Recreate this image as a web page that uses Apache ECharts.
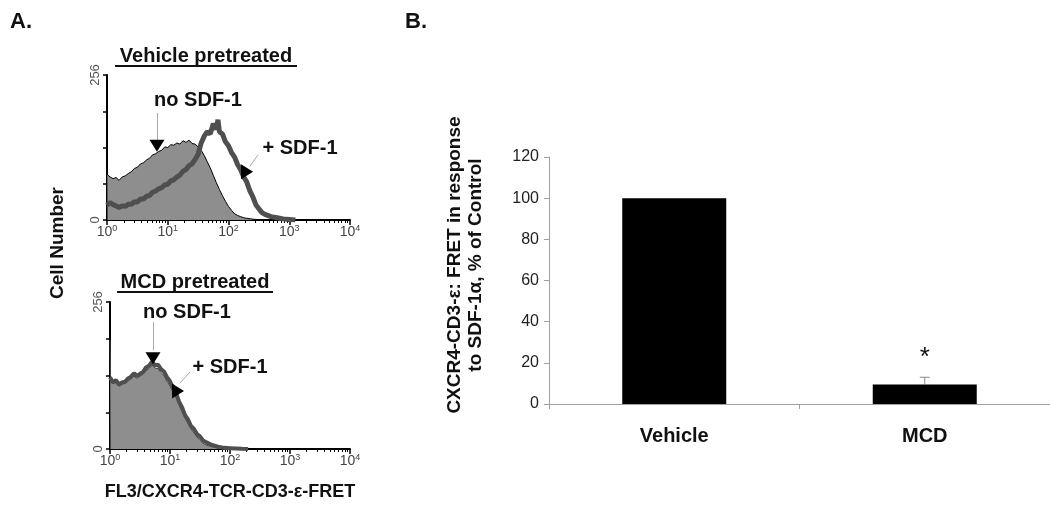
<!DOCTYPE html>
<html>
<head>
<meta charset="utf-8">
<script src="https://cdn.jsdelivr.net/npm/echarts@6/dist/echarts.min.js"></script>
<style>
  html, body { margin: 0; padding: 0; background: #fff; }
  #main { width: 1050px; height: 510px; }
</style>
</head>
<body>
<div id="main"></div>
<script>
// panel A, top: vehicle pretreated  [fluorescence, cell count]
var vehNoSdf = [[1,172],[1.02,80],[1.12,76],[1.26,73],[1.41,75],[1.58,70],[1.78,76],[2,78],[2.24,82],[2.51,85],[2.82,91],[3.16,93],[3.55,99],[3.98,101],[4.47,106],[5.01,109],[5.62,115],[6.31,117],[7.08,121],[7.94,123],[8.91,129],[10,128],[11.2,133],[12.6,132],[14.1,136],[15.8,134],[17.8,140],[20,137],[22.4,141],[25.1,135],[28.2,134],[31.6,129],[35.5,123],[39.8,114],[44.7,103],[50.1,92],[56.2,79],[63.1,66],[70.8,54],[79.4,43],[89.1,33],[100,24],[112,17],[126,11],[141,8],[158,6],[178,4],[200,3],[251,1.5],[316,0.5],[398,0]];
var vehSdf = [[1,26],[1.12,31],[1.26,27],[1.41,25],[1.58,22],[1.78,25],[2,24],[2.24,28],[2.51,28],[2.82,32],[3.16,32],[3.55,37],[3.98,37],[4.47,42],[5.01,43],[5.62,49],[6.31,51],[7.08,55],[7.94,57],[8.91,62],[10,63],[11.2,69],[12.6,71],[14.1,76],[15.8,79],[17.8,86],[20,89],[22.4,96],[25.1,99],[28.2,107],[31.6,116],[35.5,136],[39.8,148],[44.7,156],[50.1,152],[56.2,170],[63.1,160],[67,177],[70.8,156],[79.4,152],[89.1,138],[100,131],[112,119],[126,111],[141,98],[158,89],[178,76],[200,67],[224,52],[251,41],[282,27],[316,20],[355,13],[398,10],[501,6],[631,4],[794,2],[1000,1],[1259,0]];

// panel A, bottom: MCD pretreated
var mcdNoSdf = [[1,190],[1.02,121],[1.12,114],[1.26,117],[1.41,109],[1.58,113],[1.78,114],[2,119],[2.24,122],[2.51,127],[2.82,123],[3.16,127],[3.55,130],[3.98,137],[4.47,140],[5.01,146],[5.62,141],[6.31,140],[7.08,133],[7.94,128],[8.91,118],[10,110],[11.2,99],[12.6,90],[14.1,77],[15.8,65],[17.8,54],[20,44],[22.4,35],[25.1,28],[28.2,21],[31.6,15],[35.5,10],[39.8,7],[50.1,4],[63.1,2],[79.4,1],[100,0]];
var mcdSdf = [[1,125],[1.12,116],[1.26,120],[1.41,112],[1.58,116],[1.78,117],[2,123],[2.24,126],[2.51,132],[2.82,127],[3.16,131],[3.55,134],[3.98,142],[4.47,145],[5.01,152],[5.62,146],[6.31,147],[7.08,139],[7.94,135],[8.91,125],[10,118],[11.2,106],[12.6,98],[14.1,83],[15.8,73],[17.8,59],[20,51],[22.4,40],[25.1,35],[28.2,26],[31.6,22],[35.5,15],[39.8,12],[50.1,7],[63.1,4],[79.4,2],[100,1.5],[126,1],[158,0.5],[200,0]];

// panel B
var barCats = ['Vehicle', 'MCD'];
var barVals = [100, 9.5];
var barErr = [0, 3.5];
var barStars = ['', '*'];

var FONT = '"Liberation Sans", Arial, sans-serif';
var FILL = '#8e8e8e';
var DARK = '#4f4f4f';

var chart = echarts.init(document.getElementById('main'));

function histX(idx, name) {
  return {
    type: 'log', gridIndex: idx, logBase: 10, min: 1, max: 10000,
    name: name || '', nameLocation: 'middle', nameGap: 34,
    nameTextStyle: { fontFamily: FONT, fontWeight: 'bold', fontSize: 18, color: '#111' },
    axisLine: { lineStyle: { color: '#000', width: 2 } },
    axisTick: { show: true, length: 5, lineStyle: { color: '#000', width: 1.5 } },
    minorTick: { show: true, splitNumber: 10, length: 3, lineStyle: { color: '#000' } },
    splitLine: { show: false },
    axisLabel: {
      margin: 4,
      formatter: function (v) {
        return '{a|10}{b|' + Math.round(Math.log10(v)) + '}';
      },
      rich: {
        a: { fontFamily: FONT, fontSize: 14, color: '#444' },
        b: { fontFamily: FONT, fontSize: 9, color: '#444', padding: [0, 0, 8, 0] }
      }
    }
  };
}

function histY(idx) {
  return {
    type: 'value', gridIndex: idx, min: 0, max: 256, interval: 64,
    axisLine: { show: true, lineStyle: { color: '#000', width: 2 } },
    axisTick: { show: true, length: 4, lineStyle: { color: '#000', width: 1.5 } },
    splitLine: { show: false },
    axisLabel: {
      rotate: 90, margin: 5, fontFamily: FONT, fontSize: 13, color: '#555',
      formatter: function (v) { return (v === 0 || v === 256) ? String(v) : ''; }
    }
  };
}

function leader(p1, p2) {
  return [{ coord: p1 }, { coord: p2 }];
}

var option = {
  animation: false,
  backgroundColor: '#fff',
  grid: [
    { left: 107, top: 75, width: 243, height: 145 },
    { left: 110, top: 302, width: 240, height: 147 },
    { left: 549, top: 157, width: 514, height: 247 }
  ],
  xAxis: [
    histX(0),
    histX(1, 'FL3/CXCR4-TCR-CD3-\u03b5-FRET'),
    {
      type: 'category', gridIndex: 2, data: barCats,
      axisLine: { lineStyle: { color: '#a0a0a0', width: 1 } },
      axisTick: { show: true, length: 5, lineStyle: { color: '#a0a0a0' } },
      axisLabel: { margin: 22, fontFamily: FONT, fontWeight: 'bold', fontSize: 20, color: '#111' }
    }
  ],
  yAxis: [
    histY(0),
    histY(1),
    {
      type: 'value', gridIndex: 2, min: 0, max: 120, interval: 20,
      axisLine: { show: true, lineStyle: { color: '#a0a0a0', width: 1 } },
      axisTick: { show: true, length: 5, lineStyle: { color: '#a0a0a0' } },
      splitLine: { show: false },
      axisLabel: { margin: 10, fontFamily: FONT, fontSize: 16, color: '#222' }
    }
  ],
  series: [
    {
      type: 'line', xAxisIndex: 0, yAxisIndex: 0, data: vehNoSdf, symbol: 'none',
      lineStyle: { color: '#000', width: 1 }, areaStyle: { color: FILL, opacity: 1 }
    },
    {
      type: 'line', xAxisIndex: 0, yAxisIndex: 0, data: vehSdf, symbol: 'none',
      lineStyle: { color: DARK, width: 5 },
      markLine: {
        silent: true, symbol: 'none', label: { show: false },
        lineStyle: { color: '#aaa', width: 1, type: 'solid' },
        data: [leader([6.65, 189], [6.65, 141]), leader([306, 115], [226, 95])]
      },
      markPoint: {
        silent: true, label: { show: false }, itemStyle: { color: '#000' },
        data: [
          { coord: [6.65, 131], symbol: 'triangle', symbolSize: [15, 12], symbolRotate: 180 },
          { coord: [202, 85], symbol: 'triangle', symbolSize: [15, 12], symbolRotate: -90 }
        ]
      }
    },
    {
      type: 'line', xAxisIndex: 1, yAxisIndex: 1, data: mcdNoSdf, symbol: 'none',
      lineStyle: { color: '#444', width: 1 }, areaStyle: { color: FILL, opacity: 1 }
    },
    {
      type: 'line', xAxisIndex: 1, yAxisIndex: 1, data: mcdSdf, symbol: 'none',
      lineStyle: { color: DARK, width: 4 },
      markLine: {
        silent: true, symbol: 'none', label: { show: false },
        lineStyle: { color: '#aaa', width: 1, type: 'solid' },
        data: [leader([5.2, 221], [5.2, 172]), leader([21.5, 134], [14.7, 115])]
      },
      markPoint: {
        silent: true, label: { show: false }, itemStyle: { color: '#000' },
        data: [
          { coord: [5.2, 158], symbol: 'triangle', symbolSize: [15, 12], symbolRotate: 180 },
          { coord: [13.6, 101], symbol: 'triangle', symbolSize: [15, 12], symbolRotate: -90 }
        ]
      }
    },
    {
      type: 'bar', xAxisIndex: 2, yAxisIndex: 2, data: barVals, barWidth: 104,
      itemStyle: { color: '#000' }
    },
    {
      type: 'custom', xAxisIndex: 2, yAxisIndex: 2,
      data: barCats.map(function (c, i) { return [i, barVals[i], barErr[i], barStars[i]]; }),
      renderItem: function (params, api) {
        var err = api.value(2);
        if (!err) return;
        var base = api.coord([api.value(0), api.value(1)]);
        var top = api.coord([api.value(0), api.value(1) + err]);
        return {
          type: 'group',
          children: [
            { type: 'line', shape: { x1: base[0], y1: base[1], x2: top[0], y2: top[1] }, style: { stroke: '#888', lineWidth: 1 } },
            { type: 'line', shape: { x1: top[0] - 5, y1: top[1], x2: top[0] + 5, y2: top[1] }, style: { stroke: '#888', lineWidth: 1 } },
            { type: 'text', x: top[0], y: top[1] - 6, style: { text: barStars[params.dataIndex], font: '26px ' + FONT, fill: '#111', align: 'center', verticalAlign: 'bottom' } }
          ]
        };
      }
    }
  ],
  graphic: [
    { type: 'text', x: 10, y: 22, style: { text: 'A.', font: 'bold 22px ' + FONT, fill: '#111', verticalAlign: 'middle' } },
    { type: 'text', x: 405, y: 22, style: { text: 'B.', font: 'bold 22px ' + FONT, fill: '#111', verticalAlign: 'middle' } },
    { type: 'text', x: 206, y: 56, style: { text: 'Vehicle pretreated', font: 'bold 20px ' + FONT, fill: '#111', align: 'center', verticalAlign: 'middle' } },
    { type: 'line', shape: { x1: 115, y1: 66, x2: 297, y2: 66 }, style: { stroke: '#111', lineWidth: 2 } },
    { type: 'text', x: 195, y: 282, style: { text: 'MCD pretreated', font: 'bold 20px ' + FONT, fill: '#111', align: 'center', verticalAlign: 'middle' } },
    { type: 'line', shape: { x1: 117, y1: 292, x2: 273, y2: 292 }, style: { stroke: '#111', lineWidth: 2 } },
    { type: 'text', x: 198, y: 100, style: { text: 'no SDF-1', font: 'bold 20px ' + FONT, fill: '#111', align: 'center', verticalAlign: 'middle' } },
    { type: 'text', x: 300, y: 148, style: { text: '+ SDF-1', font: 'bold 20px ' + FONT, fill: '#111', align: 'center', verticalAlign: 'middle' } },
    { type: 'text', x: 187, y: 312, style: { text: 'no SDF-1', font: 'bold 20px ' + FONT, fill: '#111', align: 'center', verticalAlign: 'middle' } },
    { type: 'text', x: 230, y: 367, style: { text: '+ SDF-1', font: 'bold 20px ' + FONT, fill: '#111', align: 'center', verticalAlign: 'middle' } },
    { type: 'text', x: 58, y: 243, rotation: Math.PI / 2, style: { text: 'Cell Number', font: 'bold 19px ' + FONT, fill: '#111', align: 'center', verticalAlign: 'middle' } },
    { type: 'text', x: 465, y: 265, rotation: Math.PI / 2, style: { text: 'CXCR4-CD3-\u03b5: FRET in response\nto SDF-1\u03b1, % of Control', font: 'bold 19px ' + FONT, lineHeight: 21, fill: '#111', align: 'center', verticalAlign: 'middle' } }
  ]
};

chart.setOption(option);
</script>
</body>
</html>
